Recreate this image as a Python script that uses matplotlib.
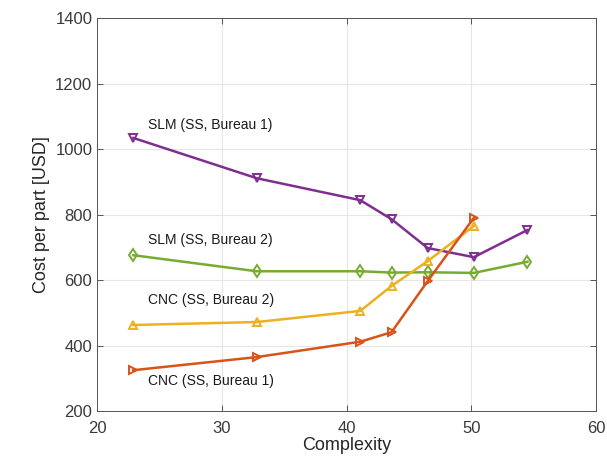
import matplotlib.pyplot as plt

plt.rcParams['font.family'] = ['Liberation Sans', 'DejaVu Sans']

complexity = [22.9, 32.8, 41.1, 43.6, 46.5, 50.2, 54.5]
slm_bureau1 = [1034, 911, 844, 786, 698, 670, 753]
slm_bureau2 = [676, 627, 627, 623, 624, 622, 656]
cnc_bureau2 = [463, 472, 506, 582, 658, 765]
cnc_bureau1 = [325, 365, 412, 441, 597, 790]

labels = ['SLM (SS, Bureau 1)', 'SLM (SS, Bureau 2)',
          'CNC (SS, Bureau 2)', 'CNC (SS, Bureau 1)']
label_pos = [(24.1, 1073), (24.1, 722), (24.1, 539), (24.1, 292)]

fig = plt.figure(figsize=(6.07, 4.63), dpi=100)
ax = fig.add_axes([0.16, 0.112, 0.822, 0.849])

lw = 1.8
ax.plot(complexity, slm_bureau1, color='#7E2F8E', marker='v', mfc='none',
        ms=6, mew=1.4, lw=lw)
ax.plot(complexity, slm_bureau2, color='#77AC30', marker='d', mfc='none',
        ms=6, mew=1.4, lw=lw)
ax.plot(complexity[:6], cnc_bureau2, color='#EDB120', marker='^', mfc='none',
        ms=6, mew=1.4, lw=lw)
ax.plot(complexity[:6], cnc_bureau1, color='#D95319', marker='>', mfc='none',
        ms=6, mew=1.4, lw=lw)

for txt, (x, y) in zip(labels, label_pos):
    ax.text(x, y, txt, fontsize=10, va='center', ha='left', color='#1a1a1a')

ax.set_xlim(20, 60)
ax.set_ylim(200, 1400)
ax.set_xticks([20, 30, 40, 50, 60])
ax.set_yticks(range(200, 1401, 200))
ax.grid(True, color='#e6e6e6', lw=0.8)
ax.set_axisbelow(True)
for s in ax.spines.values():
    s.set_color('#555555')
    s.set_linewidth(0.7)
ax.tick_params(direction='in', top=True, right=True, labelsize=12,
               colors='#555555', labelcolor='#3a3a3a', length=4, width=0.7)
ax.tick_params(axis='x', pad=7)
ax.set_xlabel('Complexity', fontsize=13, color='#262626', labelpad=1)
ax.set_ylabel('Cost per part [USD]', fontsize=13, color='#262626')

fig.savefig('out.png', dpi=100)
